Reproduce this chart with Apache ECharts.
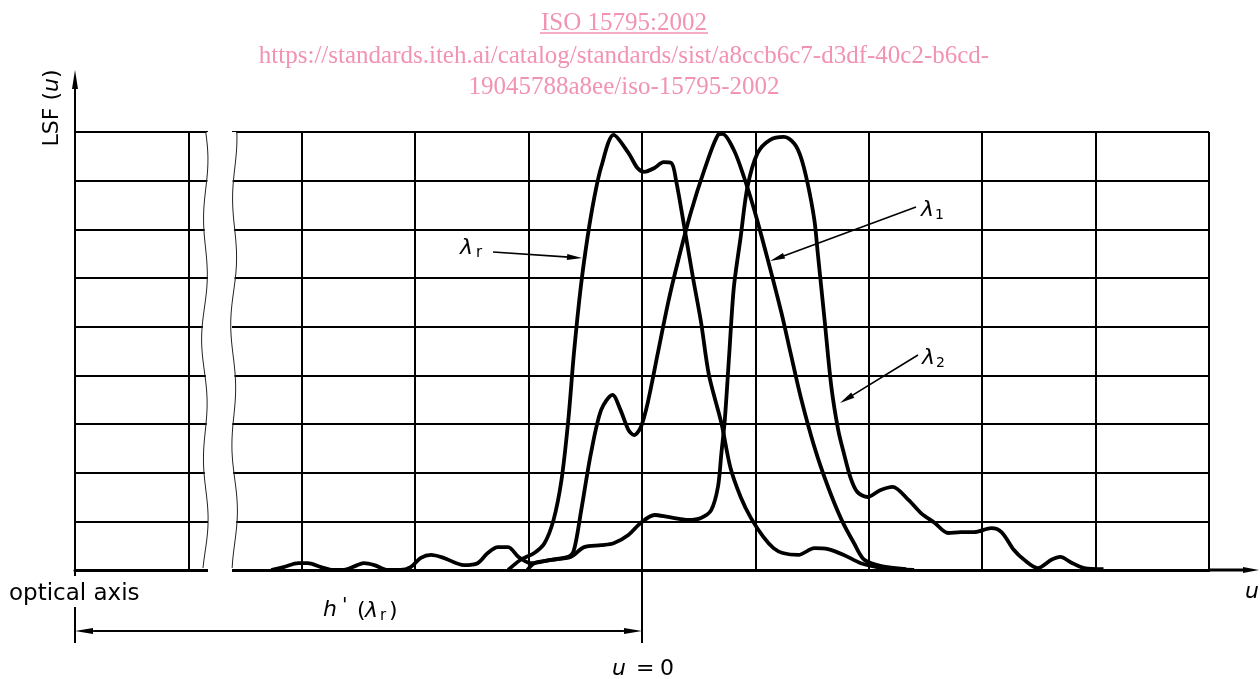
<!DOCTYPE html>
<html><head><meta charset="utf-8">
<script src="https://cdn.jsdelivr.net/npm/echarts@6/dist/echarts.min.js"></script>
<style>html,body{margin:0;padding:0;background:#fff}#c{width:1260px;height:679px}</style>
</head><body><div id="c"></div>
<script>
// ---- data (u in grid units, u = 0 at the marked line; LSF in grid units) ----
const lrU   = [-1.18,-1.07,-0.95,-0.86,-0.78,-0.71,-0.65,-0.60,-0.54,-0.48,-0.42,-0.36,-0.25,-0.12,-0.04,0.02,0.11,0.19,0.26,0.30,0.37,0.45,0.52,0.59,0.70,0.78,0.87,0.96,1.07,1.16,1.24,1.38,1.52,1.64,1.78,1.93,2.13,2.40];
const lrLSF = [0,0.21,0.35,0.55,1.03,1.85,3.08,4.46,5.81,6.84,7.66,8.28,8.94,8.57,8.26,8.18,8.26,8.38,8.36,8.01,7.09,6.00,5.10,4.01,3.02,2.10,1.50,1.07,0.68,0.45,0.35,0.31,0.45,0.43,0.31,0.14,0.04,0];

const l1U   = [-1.01,-0.95,-0.80,-0.65,-0.60,-0.54,-0.45,-0.36,-0.26,-0.19,-0.12,-0.07,-0.01,0.05,0.14,0.23,0.32,0.43,0.55,0.67,0.71,0.81,0.90,0.99,1.11,1.23,1.31,1.40,1.52,1.64,1.76,1.87,1.96,2.11,2.33];
const l1LSF = [0,0.14,0.21,0.27,0.41,1.17,2.40,3.29,3.60,3.29,2.88,2.77,2.94,3.43,4.46,5.49,6.37,7.34,8.22,8.94,8.96,8.63,8.07,7.40,6.37,5.28,4.46,3.55,2.53,1.71,1.03,0.55,0.21,0.08,0.02];

const l2U   = [-3.27,-3.16,-3.03,-2.95,-2.83,-2.72,-2.63,-2.51,-2.45,-2.36,-2.24,-2.13,-2.04,-1.95,-1.86,-1.75,-1.57,-1.45,-1.36,-1.27,-1.18,-1.09,-0.98,-0.80,-0.63,-0.51,-0.36,-0.25,-0.12,-0.01,0.11,0.23,0.41,0.52,0.61,0.67,0.70,0.73,0.77,0.81,0.87,0.93,1.02,1.13,1.25,1.34,1.40,1.46,1.52,1.55,1.61,1.67,1.73,1.78,1.84,1.90,1.99,2.10,2.21,2.35,2.46,2.58,2.70,2.81,2.93,3.08,3.17,3.28,3.37,3.49,3.61,3.69,3.78,3.90,4.07];
const l2LSF = [0,0.06,0.14,0.14,0.06,0,0,0.10,0.14,0.10,0,0,0.06,0.25,0.31,0.25,0.10,0.14,0.35,0.47,0.47,0.27,0.14,0.21,0.27,0.47,0.51,0.55,0.72,0.97,1.13,1.09,1.03,1.07,1.23,1.71,2.40,3.08,4.46,5.81,6.84,7.87,8.57,8.84,8.90,8.77,8.49,7.95,7.19,6.51,5.14,3.76,2.88,2.40,1.89,1.60,1.50,1.64,1.71,1.44,1.17,0.97,0.76,0.78,0.78,0.86,0.78,0.41,0.21,0.04,0.21,0.27,0.16,0.04,0.02];

const uMin = -5, uMax = 5, uStep = 1;
const lsfMin = 0, lsfMax = 9, lsfStep = 1;

const watermark = ['ISO 15795:2002','https://standards.iteh.ai/catalog/standards/sist/a8ccb6c7-d3df-40c2-b6cd-','19045788a8ee/iso-15795-2002'];

// ---- chart ----
const chart = echarts.init(document.getElementById('c'));
const K = '#000';
const zip = (a,b)=>a.map((v,i)=>[v,b[i]]);
const curve = d => ({type:'line', data:d, showSymbol:false, smooth:0.3, clip:true,
  lineStyle:{color:K, width:3.8}, z:3, silent:true});

chart.setOption({
  animation:false,
  grid:{left:75, right:51, top:132, bottom:109, containLabel:false},
  xAxis:{type:'value', min:uMin, max:uMax, interval:uStep,
    axisLine:{show:true, onZero:false, lineStyle:{color:K, width:3}},
    axisTick:{show:false}, axisLabel:{show:false},
    splitLine:{show:true, lineStyle:{color:K, width:2}}},
  yAxis:{type:'value', min:lsfMin, max:lsfMax, interval:lsfStep,
    axisLine:{show:true, lineStyle:{color:K, width:2}},
    axisTick:{show:false}, axisLabel:{show:false},
    splitLine:{show:true, lineStyle:{color:K, width:2}}},
  series:[curve(zip(lrU,lrLSF)), curve(zip(l1U,l1LSF)), curve(zip(l2U,l2LSF))]
});

// ---- decorations ----
const P = (u,v)=>chart.convertToPixel({gridIndex:0},[u,v]);
const [xL, yB] = P(uMin, lsfMin);
const [xR, yT] = P(uMax, lsfMax);
const [x0] = P(0, 0);

const g = [];
const line = (x1,y1,x2,y2,w,c)=>g.push({type:'line', z:50, silent:true,
  shape:{x1,y1,x2,y2}, style:{stroke:c||K, lineWidth:w}});
function arrow(x1,y1,x2,y2,w,len,hw){
  const dx=x2-x1, dy=y2-y1, L=Math.hypot(dx,dy), ux=dx/L, uy=dy/L;
  const bx=x2-ux*len, by=y2-uy*len;
  line(x1,y1,bx+ux*2,by+uy*2,w);
  g.push({type:'polygon', z:50, silent:true,
    shape:{points:[[x2,y2],[bx-uy*hw,by+ux*hw],[bx+uy*hw,by-ux*hw]]}, style:{fill:K}});
}
const txt = (text,x,y,font,opt)=>g.push(Object.assign({type:'text', z:60, silent:true,
  style:{text, x, y, font, fill:K, align:'left', verticalAlign:'middle'}}, opt||{}));

// break in the grid (two wavy edges)
const wl = [], wr = [];
for (let y = yT; y <= yB + 0.01; y += 4) {
  const t = (y - yT) / (yB - yT);
  wl.push([205 + 2.4*Math.sin(t*Math.PI*7.2 + 0.3) + 1.0*Math.sin(t*Math.PI*3.1), y]);
  wr.push([234 + 2.4*Math.sin(t*Math.PI*7.0 + 1.4) + 1.0*Math.sin(t*Math.PI*2.7+0.5), y]);
}
g.push({type:'polygon', z:40, silent:true,
  shape:{points: wl.map(p=>[p[0]+0.8,p[1]]).concat(wr.slice().reverse().map(p=>[p[0]-0.8,p[1]]))},
  style:{fill:'#fff'}});
g.push({type:'rect', z:40, silent:true, shape:{x:208, y:yT-3, width:24, height:yB-yT+6}, style:{fill:'#fff'}});
g.push({type:'polyline', z:45, silent:true, shape:{points:wl}, style:{stroke:'#222', lineWidth:1, fill:null}});
g.push({type:'polyline', z:45, silent:true, shape:{points:wr}, style:{stroke:'#222', lineWidth:1, fill:null}});

// axis extensions
arrow(xL, yT, xL, 70, 2, 19, 3);
line(xL, yB, xL, yB+6, 2);
arrow(xR, yB, 1259, yB, 3, 16, 3);
// u = 0 extension and optical-axis extension
line(x0, yB, x0, 643, 2);
line(xL, 607, xL, 643, 2);
// dimension h'
const dy = 631;
line(xL+15, dy, x0-15, dy, 1.5);
arrow(x0-20, dy, xL, dy, 1.5, 18, 3);
arrow(xL+20, dy, x0, dy, 1.5, 18, 3);

// label arrows
arrow(493, 252, 582, 258, 1.6, 15, 3);
arrow(916, 207, 770, 261, 1.6, 15, 3);
arrow(918, 355, 840, 403, 1.6, 15, 3);

const F = '"DejaVu Sans"';
// curve labels
txt('λ', 460, 248, 'italic 22px '+F);
txt('r', 476, 253, '15px '+F);
txt('λ', 921, 210, 'italic 22px '+F);
txt('1', 935, 215, '14px '+F);
txt('λ', 922, 358, 'italic 22px '+F);
txt('2', 936, 363, '14px '+F);

// axis texts
g.push({type:'text', z:60, silent:true, x:52, y:108, rotation:Math.PI/2,
  style:{text:'{a|LSF (}{i|u}{a|)}', x:0, y:0, align:'center', verticalAlign:'middle',
    rich:{a:{font:'22px '+F, fill:K}, i:{font:'italic 22px '+F, fill:K}}}});
txt('optical axis', 9, 594, '23px '+F);
txt('u', 1245, 592, 'italic 22px '+F);
txt('u', 612, 669, 'italic 22px '+F);
txt('=', 636, 669, '22px '+F);
txt('0', 660, 669, '22px '+F);
txt('h', 323, 610, 'italic 22px '+F);
txt("'", 342, 606, 'italic 20px '+F);
txt('(', 357, 611, '22px '+F);
txt('λ', 365, 611, 'italic 22px '+F);
txt('r', 380, 616, '15px '+F);
txt(')', 389, 611, '22px '+F);

// watermark
const WC = '#f292b4';
const WF = '25px "Liberation Serif", "Times New Roman", serif';
[23, 56, 87].forEach((y,i)=>g.push({type:'text', z:60, silent:true,
  style:{text:watermark[i], x:624, y, font:WF, fill:WC, align:'center', verticalAlign:'middle'}}));
g.push({type:'line', z:60, silent:true, shape:{x1:540, y1:33, x2:708, y2:33}, style:{stroke:WC, lineWidth:1.3}});

chart.setOption({graphic:{elements:g}});
</script></body></html>
